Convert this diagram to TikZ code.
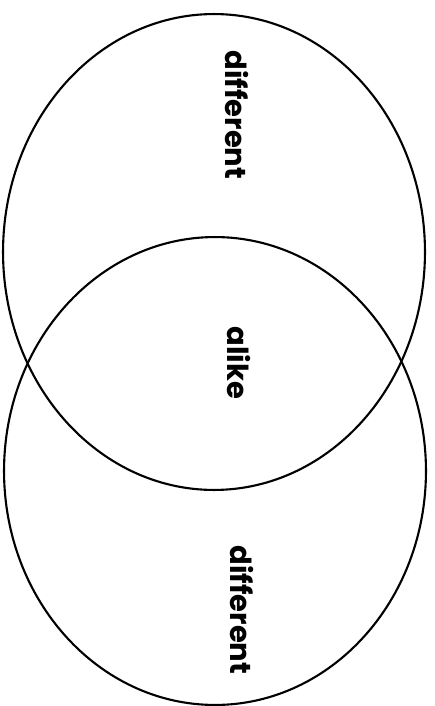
\documentclass[tikz,border=0pt]{standalone}
\usepackage{fontspec}
\setmainfont{Poppins}
\usetikzlibrary{shapes.geometric}

\tikzset{
  vennset/.style={draw, ellipse, line width=1.2pt, inner sep=0pt},
  setlabel/.style={font=\bfseries\fontsize{16.5}{18}\selectfont, rotate=-90, inner sep=0pt}
}

\begin{document}
\begin{tikzpicture}[x=0.02cm, y=-0.02cm]
  \useasboundingbox (0,0) rectangle (434,706);

  % the two sets
  \node[vennset, minimum width=8.44cm, minimum height=9.52cm] (upper) at (214,252) {};
  \node[vennset, minimum width=8.44cm, minimum height=9.36cm] (lower) at (215,471) {};

  % labels
  \node[setlabel] (updiff) at (237,115) {different};
  \node[setlabel] (alike) at (239,363) {alike};
  \node[setlabel] (lowdiff) at (242,610) {different};
\end{tikzpicture}
\end{document}
